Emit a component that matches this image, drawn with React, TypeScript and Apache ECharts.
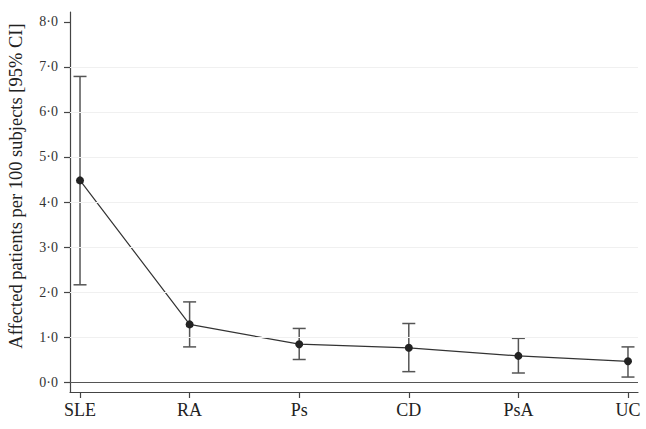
import React, { useEffect, useRef } from "react";
import * as echarts from "echarts";

const categories = ["SLE", "RA", "Ps", "CD", "PsA", "UC"];
const means = [4.48, 1.28, 0.84, 0.76, 0.58, 0.46];
const lowerCI = [2.16, 0.78, 0.5, 0.23, 0.2, 0.11];
const upperCI = [6.79, 1.78, 1.19, 1.3, 0.97, 0.78];
const yTicks = [0, 1, 2, 3, 4, 5, 6, 7, 8];
const gridLines = [1, 2, 3, 4, 5, 6, 7];
const yTitle = "Affected patients per 100 subjects [95% CI]";

const FONT = "'Liberation Serif', 'DejaVu Serif', serif";

export default function App() {
  const ref = useRef<HTMLDivElement>(null);
  useEffect(() => {
    if (!ref.current) return;
    const chart = echarts.init(ref.current, null, { renderer: "svg" });
    const xIdx = categories.map((_, i) => i);
    const fmt = (v: number) => v.toFixed(1).replace(".", "\u00B7");
    chart.setOption({
      animation: false,
      backgroundColor: "#ffffff",
      textStyle: { fontFamily: FONT },
      grid: { left: 70, right: 8, top: 12, bottom: 37, containLabel: false },
      xAxis: {
        type: "value",
        min: -0.0914,
        max: 5.0914,
        axisLine: { show: true, onZero: false, lineStyle: { color: "#444", width: 1.2 } },
        axisTick: { show: true, customValues: xIdx, length: 6, lineStyle: { color: "#444", width: 1.2 } },
        axisLabel: {
          customValues: xIdx,
          formatter: (v: number) => categories[Math.round(v)],
          fontSize: 18,
          color: "#222",
          fontFamily: FONT,
          margin: 9,
        },
        splitLine: { show: false },
      },
      yAxis: {
        type: "value",
        min: -0.2222,
        max: 8.2222,
        axisLine: { show: true, onZero: false, lineStyle: { color: "#444", width: 1.2 } },
        axisTick: { show: true, customValues: yTicks, length: 6, lineStyle: { color: "#444", width: 1.2 } },
        axisLabel: {
          customValues: yTicks,
          formatter: fmt,
          fontSize: 14,
          color: "#333",
          fontFamily: FONT,
          margin: 12,
        },
        splitLine: { show: false },
      },
      graphic: [
        {
          type: "text",
          x: 16,
          y: 186,
          rotation: Math.PI / 2,
          style: {
            text: yTitle,
            fontSize: 18.5,
            fontFamily: FONT,
            fill: "#222",
            textAlign: "center",
            textVerticalAlign: "middle",
          },
        },
      ],
      series: [
        {
          type: "custom",
          z: 2,
          data: categories.map((_, i) => [i, lowerCI[i], upperCI[i]]),
          renderItem: (params: any, api: any) => {
            const x = api.value(0);
            const lo = api.coord([x, api.value(1)]);
            const hi = api.coord([x, api.value(2)]);
            const w = 6.5;
            const style = { stroke: "#555", lineWidth: 1.5 };
            return {
              type: "group",
              children: [
                { type: "line", shape: { x1: lo[0], y1: lo[1], x2: hi[0], y2: hi[1] }, style },
                { type: "line", shape: { x1: lo[0] - w, y1: lo[1], x2: lo[0] + w, y2: lo[1] }, style },
                { type: "line", shape: { x1: hi[0] - w, y1: hi[1], x2: hi[0] + w, y2: hi[1] }, style },
              ],
            };
          },
        },
        {
          type: "line",
          z: 3,
          data: categories.map((_, i) => [i, means[i]]),
          symbol: "circle",
          symbolSize: 8,
          itemStyle: { color: "#222" },
          lineStyle: { color: "#333", width: 1.2 },
          markLine: {
            silent: true,
            symbol: "none",
            label: { show: false },
            data: [
              ...gridLines.map((g) => ({ yAxis: g, lineStyle: { color: "#f0f0f0", width: 1, type: "solid" } })),
              { yAxis: 0, lineStyle: { color: "#555", width: 1.2, type: "solid" } },
            ],
          },
        },
      ],
    });
    return () => chart.dispose();
  }, []);
  return (
    <div
      ref={ref}
      style={{ position: "fixed", left: 0, top: 0, width: 646, height: 429, background: "#fff" }}
    />
  );
}
